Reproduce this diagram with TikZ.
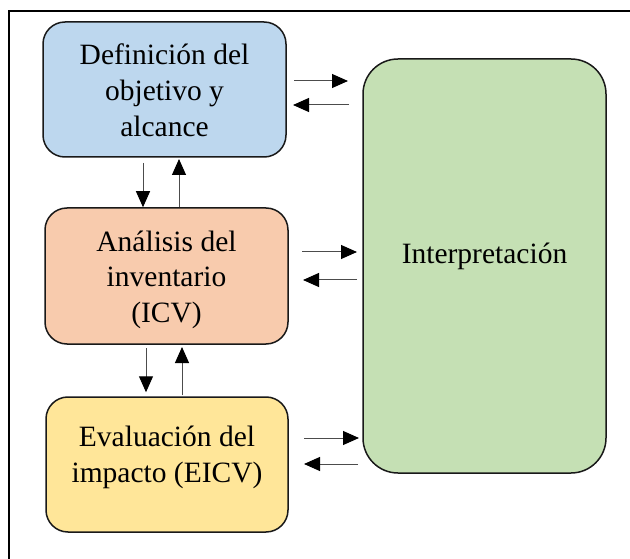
\documentclass[tikz,border=0pt]{standalone}
\usepackage{fontspec}
\setmainfont{Liberation Serif}
\usetikzlibrary{arrows.meta}
\definecolor{cblue}{HTML}{BDD7EE}
\definecolor{corange}{HTML}{F8CBAD}
\definecolor{cyellow}{HTML}{FFE699}
\definecolor{cgreen}{HTML}{C5E0B4}
\begin{document}
\begin{tikzpicture}[x=1pt,y=-1pt,
  box/.style={draw=black!90, line width=1.5pt, rounded corners=22pt, inner sep=0pt},
  lbl/.style={font=\fontsize{29.5}{36}\selectfont, align=center, inner sep=0pt, anchor=base, text=black},
  arr/.style={draw=black!70, line width=1pt, -{Triangle[length=16pt,width=14pt,black]}}]
\useasboundingbox (0,0) rectangle (630,559);
\clip (0,0) rectangle (630,559);
\draw[line width=2pt] (9,590) -- (9,11) -- (660,11);
% boxes
\node[box, fill=cblue, minimum width=243pt, minimum height=135pt] (def) at (164.5,89.5) {};
\node[box, fill=corange, minimum width=243pt, minimum height=136pt] (ana) at (166.5,276) {};
\node[box, fill=cyellow, minimum width=242pt, minimum height=135pt] (eva) at (167,464.5) {};
\node[box, fill=cgreen, rounded corners=35pt, minimum width=243pt, minimum height=414pt] (int) at (484.5,266) {};
% labels (base = last line)
\node[lbl] (tdef) at (164.5,137) {Definición del\\objetivo y\\alcance};
\node[lbl] (tana) at (166.5,323) {Análisis del\\inventario\\(ICV)};
\node[lbl] (teva) at (167,482) {Evaluación del\\impacto (EICV)};
\node[lbl] (tint) at (484.5,263) {Interpretación};
% arrow end points
\coordinate (a1) at (294,81);  \coordinate (b1) at (348,81);
\coordinate (a2) at (349,105); \coordinate (b2) at (293,105);
\coordinate (a3) at (302,252); \coordinate (b3) at (357,252);
\coordinate (a4) at (357,280); \coordinate (b4) at (303,280);
\coordinate (a5) at (304,438); \coordinate (b5) at (359,438);
\coordinate (a6) at (358,464); \coordinate (b6) at (304,464);
\coordinate (v1) at (143,163); \coordinate (v2) at (179,159);
\coordinate (v3) at (146,348); \coordinate (v4) at (182,347);
% horizontal connectors
\draw[arr] (a1) -- (b1);
\draw[arr] (a2) -- (b2);
\draw[arr] (a3) -- (b3);
\draw[arr] (a4) -- (b4);
\draw[arr] (a5) -- (b5);
\draw[arr] (a6) -- (b6);
% vertical connectors
\draw[arr] (v1) -- (v1 |- ana.north);
\draw[arr] (v2 |- ana.north) -- (v2);
\draw[arr] (v3) -- ([yshift=4pt]v3 |- eva.north);
\draw[arr] ([yshift=1pt]v4 |- eva.north) -- (v4);
\end{tikzpicture}
\end{document}
